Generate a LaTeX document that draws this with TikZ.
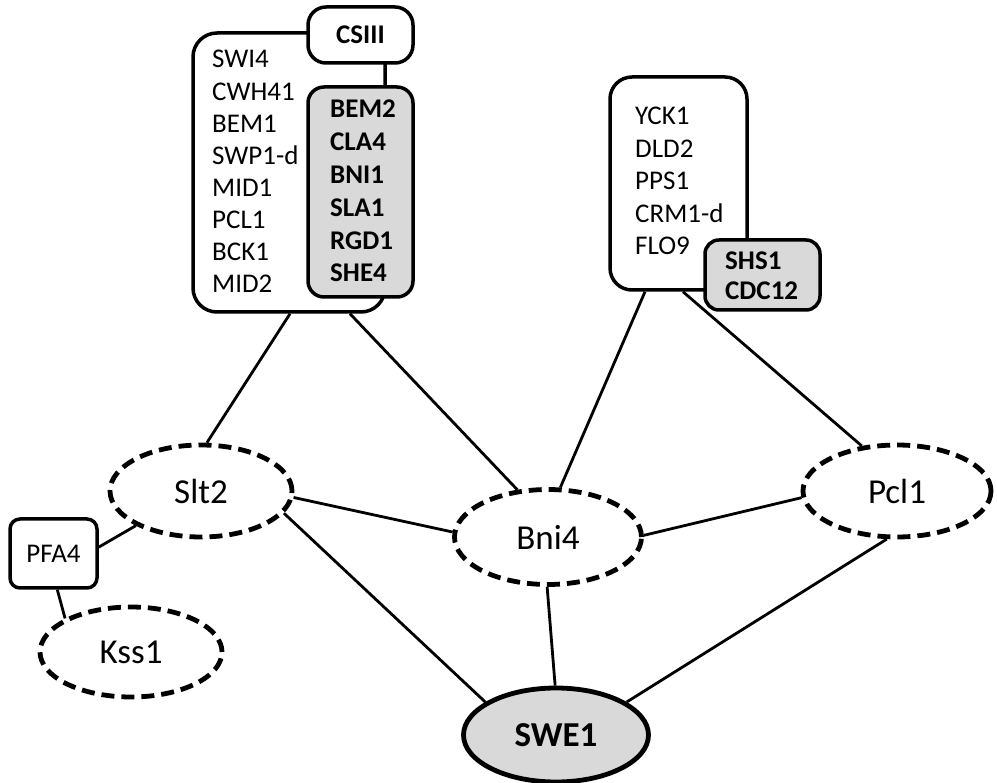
\documentclass[tikz,border=0pt]{standalone}
\usepackage{fontspec}
\setmainfont{Carlito}
\usetikzlibrary{shapes.geometric,backgrounds}
\definecolor{boxgrey}{HTML}{D9D9D9}
\begin{document}
\begin{tikzpicture}[x=1pt,y=-1pt,
  box/.style={draw,line width=3.5pt,rounded corners=#1,fill=white,inner sep=0pt},
  box/.default=22pt,
  greybox/.style={box=#1,fill=boxgrey},
  greybox/.default=16pt,
  lbl/.style={font=\fontsize{27}{31}\selectfont,inner sep=0pt,anchor=base west},
  blbl/.style={lbl,font=\fontsize{27}{31}\selectfont\bfseries},
  dashell/.style={ellipse,draw,line width=4.8pt,dash pattern=on 13pt off 7pt,fill=white,inner sep=0pt,font=\fontsize{35}{40}\selectfont},
  link/.style={line width=2.8pt}
]
\useasboundingbox (0,0) rectangle (997,783);

% left cluster
\node[box=24pt,minimum width=192pt,minimum height=279pt] (bigL) at (289,172.5) {};
\node[box=18pt,minimum width=105pt,minimum height=56pt,font=\fontsize{27}{31}\selectfont\bfseries] (csiii) at (360.5,35) {CSIII};
\node[greybox=16pt,minimum width=105pt,minimum height=210pt] (grey1) at (360.5,192) {};
\foreach \t [count=\i from 0] in {SWI4,CWH41,BEM1,SWP1-d,MID1,PCL1,BCK1,MID2}
  \node[lbl] (lA\i) at (212,{68+32.14*\i}) {\t};
\foreach \t [count=\i from 0] in {BEM2,CLA4,BNI1,SLA1,RGD1,SHE4}
  \node[blbl] (lB\i) at (330,{118+32.8*\i}) {\t};
\draw[link,line width=3pt] ([xshift=24.5pt]csiii.south) -- ([xshift=24.5pt]grey1.north);

% right cluster
\node[box=22pt,minimum width=137pt,minimum height=213pt] (bigR) at (678.5,183.5) {};
\node[greybox=14pt,minimum width=115pt,minimum height=70pt] (grey2) at (762.5,275) {};
\foreach \t [count=\i from 0] in {YCK1,DLD2,PPS1,CRM1-d,FLO9}
  \node[lbl] (lC\i) at (635,{125+32.5*\i}) {\t};
\node[blbl] (lD0) at (725,270) {SHS1};
\node[blbl] (lD1) at (725,300) {CDC12};

% ellipses
\node[dashell,minimum width=182pt,minimum height=92pt] (slt2) at (201,491) {Slt2};
\node[dashell,minimum width=182pt,minimum height=90pt] (kss1) at (131,652) {Kss1};
\node[dashell,minimum width=187pt,minimum height=95pt] (bni4) at (548,537) {Bni4};
\node[dashell,minimum width=188pt,minimum height=92pt] (pcl1) at (897,491) {Pcl1};
\node[ellipse,draw,line width=4.8pt,fill=boxgrey,inner sep=0pt,minimum width=185pt,minimum height=94pt,font=\fontsize{35}{40}\selectfont\bfseries] (swe1) at (556,735) {SWE1};
\node[box=10pt,minimum width=87pt,minimum height=69pt,font=\fontsize{27}{31}\selectfont] (pfa4) at (53.5,553.5) {PFA4};

\begin{scope}[on background layer]
  \draw[link] ([xshift=1pt]bigL.south) -- (slt2.83);
  \draw[link] ([xshift=61pt]bigL.south) -- (bni4.123);
  \draw[link] ([xshift=-33.5pt]bigR.south) -- (bni4.76);
  \draw[link] ([xshift=4.5pt]bigR.south) -- (pcl1.128);
  \draw[link] (slt2.-4) -- (bni4.177);
  \draw[link] (slt2.-15) -- (swe1.155);
  \draw[link] (slt2.208) -- (pfa4.8);
  \draw[link] (pfa4.-84) -- (kss1.153);
  \draw[link] (bni4.-91) -- (swe1.91);
  \draw[link] (bni4.1) -- (pcl1.184);
  \draw[link] (pcl1.258) -- (swe1.25);
\end{scope}
\end{tikzpicture}
\end{document}
